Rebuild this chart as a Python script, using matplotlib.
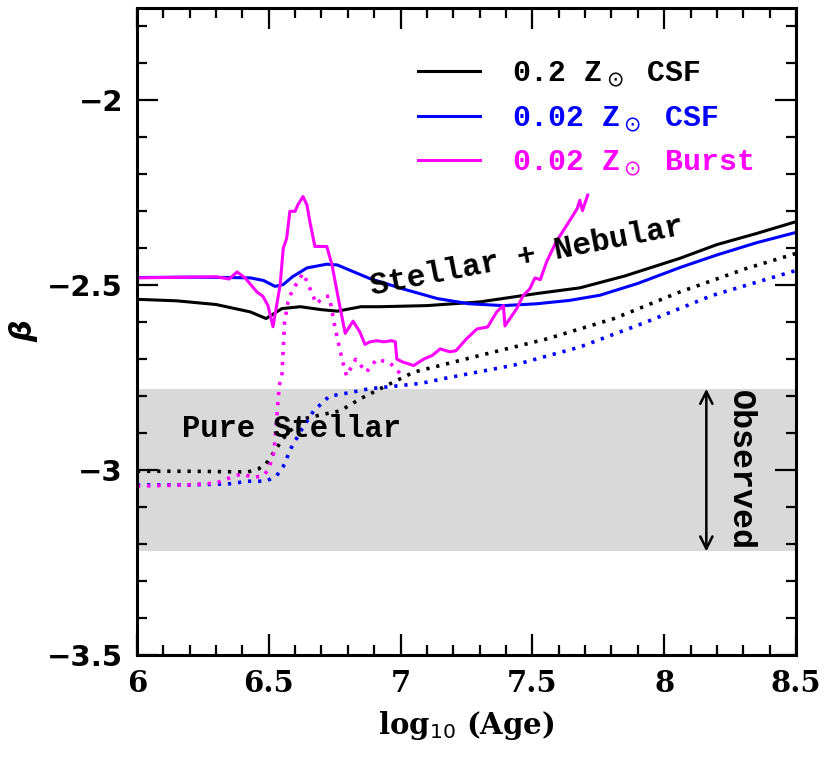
import numpy as np
import matplotlib
matplotlib.use('Agg')
import matplotlib.pyplot as plt
from matplotlib.ticker import MultipleLocator

# ---- data: log10(age) vs beta ----
# stellar + nebular (solid)
x_csf02 = [6.0, 6.15, 6.3, 6.43, 6.49, 6.55, 6.62, 6.7, 6.76, 6.85, 6.92, 7.1, 7.3, 7.52, 7.68, 7.85, 8.06, 8.2, 8.35, 8.5]
y_csf02 = [-2.538, -2.542, -2.552, -2.572, -2.59, -2.563, -2.558, -2.566, -2.57, -2.558, -2.558, -2.555, -2.545, -2.522,
           -2.507, -2.475, -2.427, -2.39, -2.36, -2.328]

x_csf002 = [6.0, 6.2, 6.35, 6.43, 6.48, 6.524, 6.555, 6.59, 6.645, 6.72, 6.76, 6.81, 6.884, 7.01, 7.14, 7.26, 7.39,
            7.517, 7.64, 7.756, 7.9, 8.06, 8.2, 8.35, 8.5]
y_csf002 = [-2.479, -2.478, -2.479, -2.48, -2.487, -2.503, -2.498, -2.477, -2.453, -2.443, -2.445, -2.46, -2.482, -2.51,
            -2.536, -2.55, -2.555, -2.55, -2.541, -2.527, -2.495, -2.452, -2.418, -2.385, -2.357]

x_burst = [6.0, 6.1, 6.2, 6.3, 6.35, 6.38, 6.41, 6.455, 6.478, 6.497, 6.516, 6.543, 6.555, 6.568, 6.58, 6.60, 6.61,
           6.63, 6.645, 6.656, 6.675, 6.70, 6.72, 6.74, 6.765, 6.79, 6.82, 6.846, 6.865, 6.884, 6.91, 6.935, 6.966,
           6.98, 6.986, 7.01, 7.05, 7.087, 7.12, 7.15, 7.187, 7.21, 7.25, 7.29, 7.33, 7.365, 7.39, 7.396, 7.415,
           7.44, 7.465, 7.49, 7.51, 7.53, 7.555, 7.59, 7.63, 7.67, 7.68, 7.69, 7.71]
y_burst = [-2.48, -2.479, -2.478, -2.477, -2.483, -2.464, -2.48, -2.518, -2.53, -2.555, -2.612, -2.50, -2.40, -2.373, -2.30, -2.30, -2.283,
           -2.26, -2.283, -2.328, -2.395, -2.395, -2.395, -2.445, -2.54, -2.63, -2.597, -2.627, -2.66, -2.653, -2.65, -2.653, -2.65,
           -2.653, -2.70, -2.708, -2.717, -2.70, -2.69, -2.672, -2.68, -2.677, -2.645, -2.618, -2.613, -2.572, -2.555, -2.61, -2.59,
           -2.564, -2.528, -2.51, -2.48, -2.485, -2.435, -2.383, -2.338, -2.293, -2.27, -2.298, -2.256]

# pure stellar (dotted)
xs_csf02 = [6.0, 6.2, 6.42, 6.46, 6.49, 6.53, 6.57, 6.64, 6.70, 6.77, 6.85, 6.95, 7.05, 7.3, 7.555, 7.81, 8.06, 8.31, 8.5]
ys_csf02 = [-3.003, -3.003, -3.005, -2.997, -2.983, -2.94, -2.90, -2.86, -2.85, -2.84, -2.806, -2.77, -2.735, -2.69,
            -2.645, -2.59, -2.518, -2.455, -2.414]

xs_csf002 = [6.0, 6.2, 6.35, 6.42, 6.49, 6.53, 6.555, 6.585, 6.625, 6.67, 6.73, 6.81, 6.88, 6.95, 7.08, 7.18, 7.43,
             7.68, 7.93, 8.18, 8.5]
ys_csf002 = [-3.04, -3.04, -3.037, -3.03, -3.03, -3.015, -2.99, -2.94, -2.89, -2.84, -2.80, -2.79, -2.78, -2.775,
             -2.765, -2.75, -2.716, -2.667, -2.60, -2.528, -2.46]

xs_burst = [6.0, 6.2, 6.3, 6.37, 6.40, 6.44, 6.48, 6.50, 6.52, 6.53, 6.54, 6.55, 6.56, 6.573, 6.587, 6.61, 6.63,
            6.645, 6.663, 6.68, 6.713, 6.73, 6.75, 6.778, 6.795, 6.83, 6.87, 6.91, 6.96, 7.0]
ys_burst = [-3.043, -3.04, -3.035, -3.016, -3.01, -3.02, -3.015, -2.997, -2.95, -2.86, -2.77, -2.745, -2.60, -2.545,
            -2.518, -2.49, -2.468, -2.49, -2.52, -2.55, -2.53, -2.53, -2.61, -2.70, -2.745, -2.70, -2.735, -2.70,
            -2.71, -2.74]

obs_lo, obs_hi = -3.22, -2.78
obs_x = 8.16

labels = ['0.2 Z$_\\odot$ CSF', '0.02 Z$_\\odot$ CSF', '0.02 Z$_\\odot$ Burst']
colors = ['black', 'blue', 'magenta']

mono = 'Liberation Mono'

fig = plt.figure(figsize=(8.3, 7.61), dpi=100)
ax = fig.add_axes([0.165, 0.1393, 0.794, 0.8502])

ax.axhspan(obs_lo, obs_hi, color='#d9d9d9', lw=0, zorder=0)

dot = (0, (0.9, 1.9))
ax.plot(x_csf02, y_csf02, color=colors[0], lw=2.2, label=labels[0])
ax.plot(x_csf002, y_csf002, color=colors[1], lw=2.2, label=labels[1])
ax.plot(x_burst, y_burst, color=colors[2], lw=2.2, label=labels[2])
ax.plot(xs_csf02, ys_csf02, color=colors[0], lw=2.6, ls=dot)
ax.plot(xs_csf002, ys_csf002, color=colors[1], lw=2.6, ls=dot)
ax.plot(xs_burst, ys_burst, color=colors[2], lw=2.6, ls=dot)

ax.annotate('', xy=(obs_x, obs_lo), xytext=(obs_x, obs_hi),
            arrowprops=dict(arrowstyle='<->', color='black', lw=1.8, mutation_scale=22, shrinkA=0, shrinkB=0))
ax.text(8.29, (obs_lo + obs_hi) / 2, 'Observed', rotation=-90, ha='center', va='center',
        fontsize=24, fontweight='bold', family=mono)
ax.text(6.586, -2.889, 'Pure Stellar', ha='center', va='center', fontsize=22, family=mono, fontweight='bold')
ax.text(7.48, -2.423, 'Stellar + Nebular', ha='center', va='center', rotation=11, fontsize=22.5, family=mono,
        fontweight='bold')

ax.set_xlim(6, 8.5)
ax.set_ylim(-3.5, -1.75)
ax.xaxis.set_minor_locator(MultipleLocator(0.1))
ax.yaxis.set_minor_locator(MultipleLocator(0.1))
ax.set_xticks([6, 6.5, 7, 7.5, 8, 8.5])
ax.set_xticklabels(['6', '6.5', '7', '7.5', '8', '8.5'])
ax.set_yticks([-3.5, -3, -2.5, -2])
ax.set_yticklabels(['\u22123.5', '\u22123', '\u22122.5', '\u22122'])
ax.tick_params(which='both', direction='in', top=True, right=True, width=1.6)
ax.tick_params(which='major', length=15, pad=10)
ax.tick_params(which='minor', length=7)
for lab in ax.get_xticklabels():
    lab.set_fontsize(21)
    lab.set_fontweight('bold')
    lab.set_family('DejaVu Serif')
for lab in ax.get_yticklabels():
    lab.set_fontsize(21)
    lab.set_fontweight('bold')
for sp in ax.spines.values():
    sp.set_linewidth(2.2)

ax.set_xlabel('log$_{10}$ (Age)', fontsize=21, fontweight='bold', family='DejaVu Serif', labelpad=8)
ax.set_ylabel('\u03b2', fontsize=22, fontweight='bold', fontstyle='italic')
ax.yaxis.set_label_coords(-0.15, 0.5)

leg = ax.legend(loc='upper left', bbox_to_anchor=(0.385, 0.962), frameon=False, handlelength=2.1,
                handletextpad=1.07, labelspacing=0.5, prop={'family': mono, 'size': 21.5, 'weight': 'bold'},
                labelcolor='linecolor')

fig.savefig('out.png', dpi=100)
